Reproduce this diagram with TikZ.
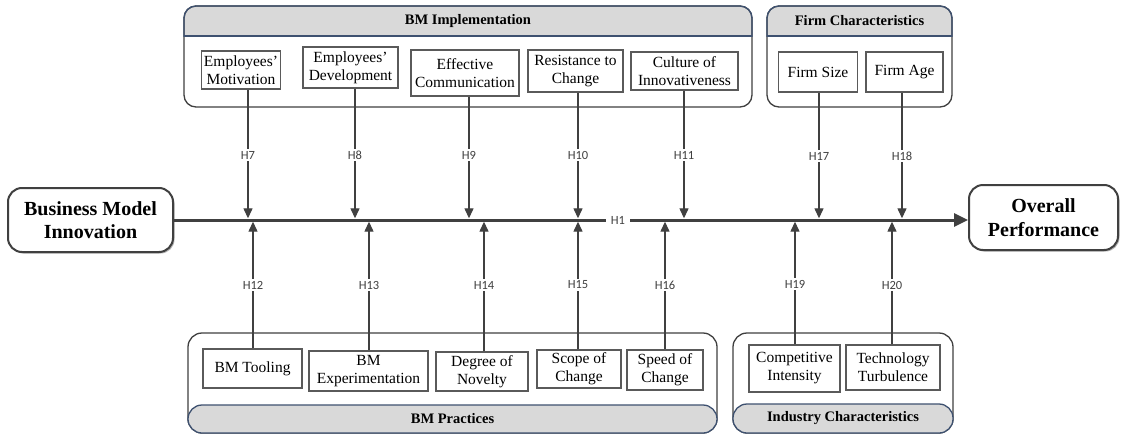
\documentclass[tikz,border=0pt]{standalone}
\usepackage{fontspec}
\setmainfont{Liberation Serif}
\newfontfamily\hfont{Carlito}
\usetikzlibrary{arrows.meta,shadows}
\definecolor{dk}{HTML}{404040}
\definecolor{bandfill}{HTML}{D9D9D9}
\definecolor{bandline}{HTML}{3E5170}
\definecolor{boxline}{HTML}{5A5A5A}
\tikzset{
  inbox/.style={draw=boxline, line width=1.1pt, fill=white, align=center, inner sep=1pt, font=\fontsize{15.5}{18}\selectfont},
  hl/.style={font=\hfont\fontsize{12.5}{14}\selectfont, fill=white, inner sep=1.5pt, text=dk},
  arr/.style={draw=dk, line width=1.3pt, -{Triangle[length=10pt,width=9pt]}},
  mainbox/.style={draw=dk, line width=2pt, rounded corners=14pt, fill=white, align=center,
     font=\bfseries\fontsize{20}{23.5}\selectfont,
     drop shadow={shadow xshift=1.5pt, shadow yshift=-1.5pt, opacity=0.3, fill=black}},
  container/.style={draw=dk, line width=1.3pt, rounded corners=12pt},
  bandborder/.style={draw=bandline, line width=1.3pt},
  band/.style={fill=bandfill, draw=bandline, line width=1.3pt, rounded corners=14pt},
  bandtext/.style={font=\bfseries\fontsize{14.5}{16}\selectfont},
  mainline/.style={draw=dk, line width=3pt, -{Triangle[length=14pt,width=13pt]}}
}
\begin{document}
\begin{tikzpicture}[x=1pt,y=-1pt]
\fill[white] (0,0) rectangle (1125,434);
\useasboundingbox (0,0) rectangle (1125,434);

% ---------- top containers ----------
\begin{scope}
  \clip (150,0) rectangle (1000,36);
  \fill[bandfill, rounded corners=12pt] (184,6) rectangle (752,107);
  \fill[bandfill, rounded corners=12pt] (767,6) rectangle (952,107);
\end{scope}
\draw[container] (184,6) rectangle (752,107);
\draw[container] (767,6) rectangle (952,107);
\begin{scope}
  \clip (150,0) rectangle (1000,36.6);
  \draw[bandborder, rounded corners=12pt] (184,6) rectangle (752,107);
  \draw[bandborder, rounded corners=12pt] (767,6) rectangle (952,107);
\end{scope}
\draw[bandborder] (184,36) -- (752,36);
\draw[bandborder] (767,36) -- (952,36);
\node[bandtext] (impl) at (468,21) {BM Implementation};
\node[bandtext] (firmc) at (859.5,21) {Firm Characteristics};

% ---------- bottom containers ----------
\draw[container, rounded corners=14pt] (188,333) rectangle (717,433);
\draw[container, rounded corners=14pt] (733,333) rectangle (953,433);
\draw[band] (188,405) rectangle (717,433);
\draw[band] (733,404) rectangle (953,433);
\node[bandtext] (prac) at (452.5,419) {BM Practices};
\node[bandtext] (indc) at (843,418.5) {Industry Characteristics};

% ---------- top boxes ----------
\node[inbox, minimum width=79pt, minimum height=38pt] (mot) at (241,70) {Employees'\\Motivation};
\node[inbox, minimum width=95pt, minimum height=41pt] (dev) at (350.5,67.5) {Employees'\\Development};
\node[inbox, minimum width=108pt, minimum height=46pt] (comm) at (465,73) {Effective\\Communication};
\node[inbox, minimum width=95pt, minimum height=42pt] (res) at (575.5,71) {Resistance to\\Change};
\node[inbox, minimum width=107pt, minimum height=38pt] (cul) at (684.5,71) {Culture of\\Innovativeness};
\node[inbox, minimum width=79pt, minimum height=40pt] (size) at (818,72) {Firm Size};
\node[inbox, minimum width=77pt, minimum height=40pt] (age) at (904.5,72) {Firm Age};

% ---------- bottom boxes ----------
\node[inbox, minimum width=99pt, minimum height=39pt] (tool) at (252.5,368.5) {BM Tooling};
\node[inbox, minimum width=119pt, minimum height=40pt] (expm) at (368.5,371) {BM\\Experimentation};
\node[inbox, minimum width=92pt, minimum height=39pt] (nov) at (482,371.5) {Degree of\\Novelty};
\node[inbox, minimum width=84pt, minimum height=38pt] (sco) at (579,369) {Scope of\\Change};
\node[inbox, minimum width=76pt, minimum height=40pt] (spe) at (665,370) {Speed of\\Change};
\node[inbox, minimum width=91pt, minimum height=47pt] (cpi) at (794.5,368.5) {Competitive\\Intensity};
\node[inbox, minimum width=94pt, minimum height=45pt] (tec) at (893,367.5) {Technology\\Turbulence};

% ---------- main boxes ----------
\node[mainbox, minimum width=165pt, minimum height=64pt] (bmi) at (90.5,220) {Business Model\\Innovation};
\node[mainbox, minimum width=149pt, minimum height=65pt] (op) at (1043.5,217.5) {Overall\\Performance};

% ---------- targets on the main line ----------
\coordinate (t7) at (248,218.3);
\coordinate (t8) at (355,218.3);
\coordinate (t9) at (469,218.3);
\coordinate (t10) at (578,218.3);
\coordinate (t11) at (684,218.3);
\coordinate (t17) at (819,218.3);
\coordinate (t18) at (902,218.3);
\coordinate (t12) at (253,221.7);
\coordinate (t13) at (369,221.7);
\coordinate (t14) at (484,221.7);
\coordinate (t15) at (578,221.7);
\coordinate (t16) at (665,221.7);
\coordinate (t19) at (795,221.7);
\coordinate (t20) at (892,221.7);

% ---------- main line ----------
\draw[mainline] (bmi.east) -- (bmi.east -| op.west);
\node[hl, inner xsep=4.5pt] (h1) at (618,220) {H1};

% ---------- hypothesis arrows ----------
\draw[arr] (mot.south -| t7) -- (t7);
\draw[arr] (dev.south -| t8) -- (t8);
\draw[arr] (comm.south -| t9) -- (t9);
\draw[arr] (res.south -| t10) -- (t10);
\draw[arr] (cul.south -| t11) -- (t11);
\draw[arr] (size.south -| t17) -- (t17);
\draw[arr] (age.south -| t18) -- (t18);
\draw[arr] (tool.north -| t12) -- (t12);
\draw[arr] (expm.north -| t13) -- (t13);
\draw[arr] (nov.north -| t14) -- (t14);
\draw[arr] (sco.north -| t15) -- (t15);
\draw[arr] (spe.north -| t16) -- (t16);
\draw[arr] (cpi.north -| t19) -- (t19);
\draw[arr] (tec.north -| t20) -- (t20);

% ---------- labels ----------
\node[hl] (l7) at (248,155) {H7};
\node[hl] (l8) at (355,155) {H8};
\node[hl] (l9) at (469,155) {H9};
\node[hl] (l10) at (578,155) {H10};
\node[hl] (l11) at (684,155) {H11};
\node[hl] (l17) at (819,156) {H17};
\node[hl] (l18) at (902,156) {H18};
\node[hl] (l12) at (253,285) {H12};
\node[hl] (l13) at (369,285) {H13};
\node[hl] (l14) at (484,285) {H14};
\node[hl] (l15) at (578,285) {H15};
\node[hl] (l16) at (665,285) {H16};
\node[hl] (l19) at (795,284) {H19};
\node[hl] (l20) at (892,285) {H20};
\end{tikzpicture}
\end{document}
